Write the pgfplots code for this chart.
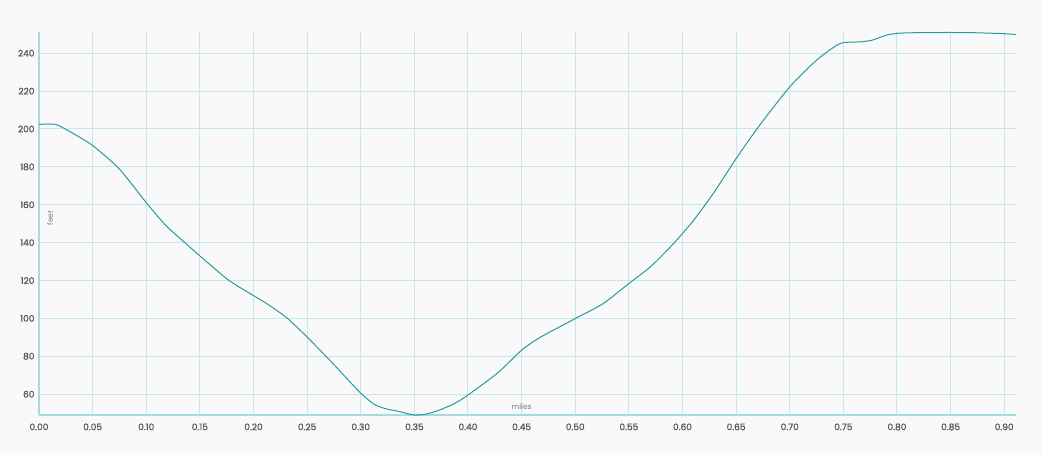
\documentclass[border=0pt]{standalone}
\usepackage{pgfplots}
\pgfplotsset{compat=1.18}
\usepackage{fontspec}
\setmainfont{Poppins}
\newfontfamily\tickfont{Poppins}[FakeBold=0.9]
\definecolor{bgc}{HTML}{F9F9F9}
\definecolor{gridc}{HTML}{C6E8EC}
\definecolor{axc}{HTML}{A6DADF}
\definecolor{linec}{HTML}{2A9A9C}
\definecolor{tickc}{HTML}{55555C}
\definecolor{labc}{HTML}{7C7C80}
\begin{document}
\begin{tikzpicture}
\fill[bgc] (-39pt,-40pt) rectangle (1004pt,415pt);
\begin{axis}[
  at={(0,0)}, anchor=south west,
  scale only axis, width=977pt, height=383pt,
  xmin=0, xmax=0.911, ymin=49, ymax=251.2,
  axis x line=bottom, axis y line=left,
  axis line style={draw=axc, line width=2pt, -},
  xtick={0,0.05,...,0.91},
  ytick={60,80,...,240},
  grid=major,
  major grid style={draw=gridc, line width=1pt},
  major tick length=5pt,
  tick style={draw=gridc, line width=1pt},
  xtick align=inside, ytick align=inside,
  /pgf/number format/assume math mode=true,
  xticklabel style={/pgf/number format/fixed, /pgf/number format/fixed zerofill, /pgf/number format/precision=2, yshift=-5pt},
  yticklabel style={xshift=-1pt},
  tick label style={font=\tickfont\fontsize{9}{10}\selectfont, text=tickc},
  clip=false,
]
\addplot[linec, line width=1pt, smooth, tension=0.4] coordinates {
(0,202.4) (0.0155,202.4) (0.031,197.9) (0.0497,191.4) (0.0746,179.1)
(0.0995,161.5) (0.118,149.2) (0.137,139.5) (0.151,132.5) (0.177,120.1) (0.2005,111.9)
(0.2145,107) (0.231,100.3) (0.25,90.2) (0.274,76.2) (0.30,60.5) (0.313,54.5) (0.324,52.2)
(0.334,51.1) (0.350,49.0) (0.362,49.6) (0.377,52.4) (0.394,57.2) (0.427,70.9)
(0.450,83.2) (0.467,89.9) (0.50,99.9) (0.526,107.8) (0.55,118.4) (0.570,127.2)
(0.590,138.5) (0.610,151.5) (0.629,166.2) (0.651,185.2) (0.672,202)
(0.700,222.2) (0.725,236.3) (0.747,245.1) (0.766,246) (0.777,246.9) (0.79,249.5) (0.803,250.6)
(0.828,250.9) (0.865,250.9) (0.896,250.4) (0.911,249.9)
};
\node[rotate=90, font=\fontsize{7.5}{8}\selectfont, text=labc] at (rel axis cs:0.0113,0.514) {feet};
\node[font=\fontsize{7.5}{8}\selectfont, text=labc] at (rel axis cs:0.494,0.022) {miles};
\end{axis}
\end{tikzpicture}
\end{document}
